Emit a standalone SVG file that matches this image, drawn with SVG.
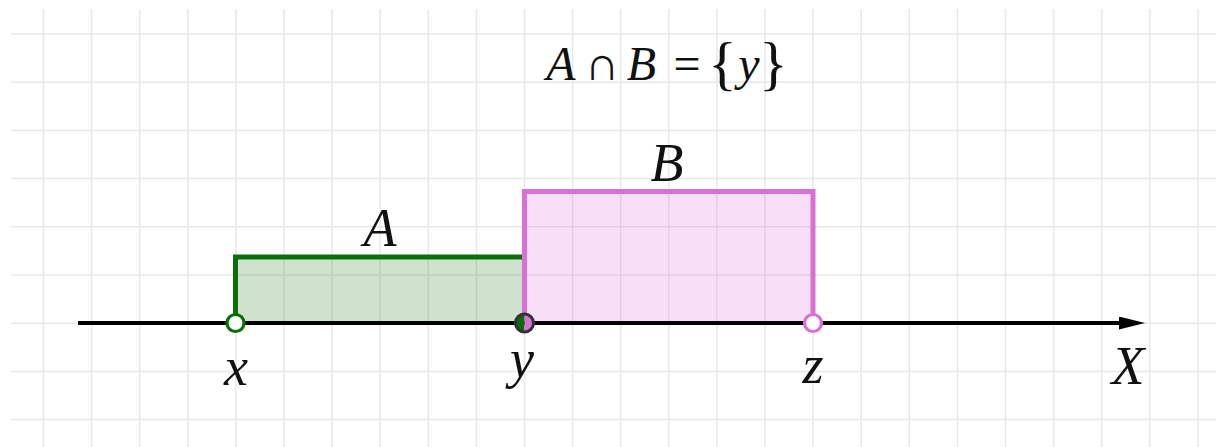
<svg xmlns="http://www.w3.org/2000/svg" width="1216" height="447" viewBox="0 0 1216 447">
<style>
.grid line{stroke:#e8e8e8;stroke-width:1.5}
.lbl{font-family:"Liberation Serif",serif;font-style:italic;font-size:54px;fill:#111;text-anchor:middle}
.ttl{font-family:"Liberation Serif","DejaVu Serif",serif;font-size:48px;fill:#111;text-anchor:middle}
.it{font-style:italic}
</style>
<defs>
<marker id="arr" markerWidth="26" markerHeight="13" refX="0" refY="6.5" orient="auto" markerUnits="userSpaceOnUse" viewBox="0 0 26 13"><path d="M0,0 L26,6.5 L0,13 z" fill="#000"/></marker>
</defs>
<rect width="1216" height="447" fill="#fff"/>
<g class="grid" id="grid">
<line x1="43.5" y1="9" x2="43.5" y2="447"/><line x1="91.6" y1="9" x2="91.6" y2="447"/><line x1="139.7" y1="9" x2="139.7" y2="447"/><line x1="187.8" y1="9" x2="187.8" y2="447"/><line x1="235.9" y1="9" x2="235.9" y2="447"/><line x1="284" y1="9" x2="284" y2="447"/><line x1="332.1" y1="9" x2="332.1" y2="447"/><line x1="380.2" y1="9" x2="380.2" y2="447"/><line x1="428.3" y1="9" x2="428.3" y2="447"/><line x1="476.4" y1="9" x2="476.4" y2="447"/><line x1="524.5" y1="9" x2="524.5" y2="447"/><line x1="572.6" y1="9" x2="572.6" y2="447"/><line x1="620.7" y1="9" x2="620.7" y2="447"/><line x1="668.8" y1="9" x2="668.8" y2="447"/><line x1="716.9" y1="9" x2="716.9" y2="447"/><line x1="765" y1="9" x2="765" y2="447"/><line x1="813.1" y1="9" x2="813.1" y2="447"/><line x1="861.2" y1="9" x2="861.2" y2="447"/><line x1="909.3" y1="9" x2="909.3" y2="447"/><line x1="957.4" y1="9" x2="957.4" y2="447"/><line x1="1005.5" y1="9" x2="1005.5" y2="447"/><line x1="1053.6" y1="9" x2="1053.6" y2="447"/><line x1="1101.7" y1="9" x2="1101.7" y2="447"/><line x1="1149.8" y1="9" x2="1149.8" y2="447"/><line x1="1197.9" y1="9" x2="1197.9" y2="447"/>
<line x1="11" y1="34" x2="1216" y2="34"/><line x1="11" y1="82.2" x2="1216" y2="82.2"/><line x1="11" y1="130.4" x2="1216" y2="130.4"/><line x1="11" y1="178.6" x2="1216" y2="178.6"/><line x1="11" y1="226.8" x2="1216" y2="226.8"/><line x1="11" y1="275" x2="1216" y2="275"/><line x1="11" y1="323.2" x2="1216" y2="323.2"/><line x1="11" y1="371.4" x2="1216" y2="371.4"/><line x1="11" y1="419.6" x2="1216" y2="419.6"/>
</g>
<g id="setA">
<rect x="235.5" y="257" width="289" height="66" fill="#0b6e0b" fill-opacity="0.2"/>
<polyline points="235.5,323 235.5,257 524.5,257" fill="none" stroke="#0b6e0b" stroke-width="5"/>
</g>
<g id="setB">
<rect x="524.5" y="191.5" width="288.5" height="131.5" fill="#da70d6" fill-opacity="0.22"/>
<polyline points="524.5,323 524.5,191.5 813,191.5 813,323" fill="none" stroke="#da70d6" stroke-width="5"/>
</g>
<g id="connectors">
<line x1="78" y1="323" x2="1119" y2="323" stroke="#000" stroke-width="4" marker-end="url(#arr)"/>
</g>
<g id="pt-x"><circle cx="235.5" cy="323" r="8.5" fill="#fff" stroke="#0b6e0b" stroke-width="3.2"/></g>
<g id="pt-y">
<path d="M524.5,314 A9,9 0 0 0 524.5,332 z" fill="#0b6e0b"/>
<path d="M524.5,314 A9,9 0 0 1 524.5,332 z" fill="#da70d6"/>
<circle cx="524.5" cy="323" r="9" fill="none" stroke="#333" stroke-width="3"/>
</g>
<g id="pt-z"><circle cx="813" cy="323" r="8.5" fill="#fff" stroke="#da70d6" stroke-width="3.2"/></g>
<g id="labels">
<text class="lbl" x="236" y="385">x</text>
<text class="lbl" x="522" y="377">y</text>
<text class="lbl" x="813" y="383">z</text>
<text class="lbl" x="1128" y="384">X</text>
<text class="lbl" x="380" y="246">A</text>
<text class="lbl" x="667" y="181">B</text>
</g>
<g id="title">
<text class="ttl it" x="561" y="80">A</text>
<text class="ttl" x="602" y="80">∩</text>
<text class="ttl it" x="641.5" y="80">B</text>
<text class="ttl" x="687" y="80">=</text>
<text class="ttl" x="722.5" y="83" style="font-size:60px">{</text>
<text class="ttl it" x="749" y="80">y</text>
<text class="ttl" x="773.5" y="83" style="font-size:60px">}</text>
</g>
</svg>
